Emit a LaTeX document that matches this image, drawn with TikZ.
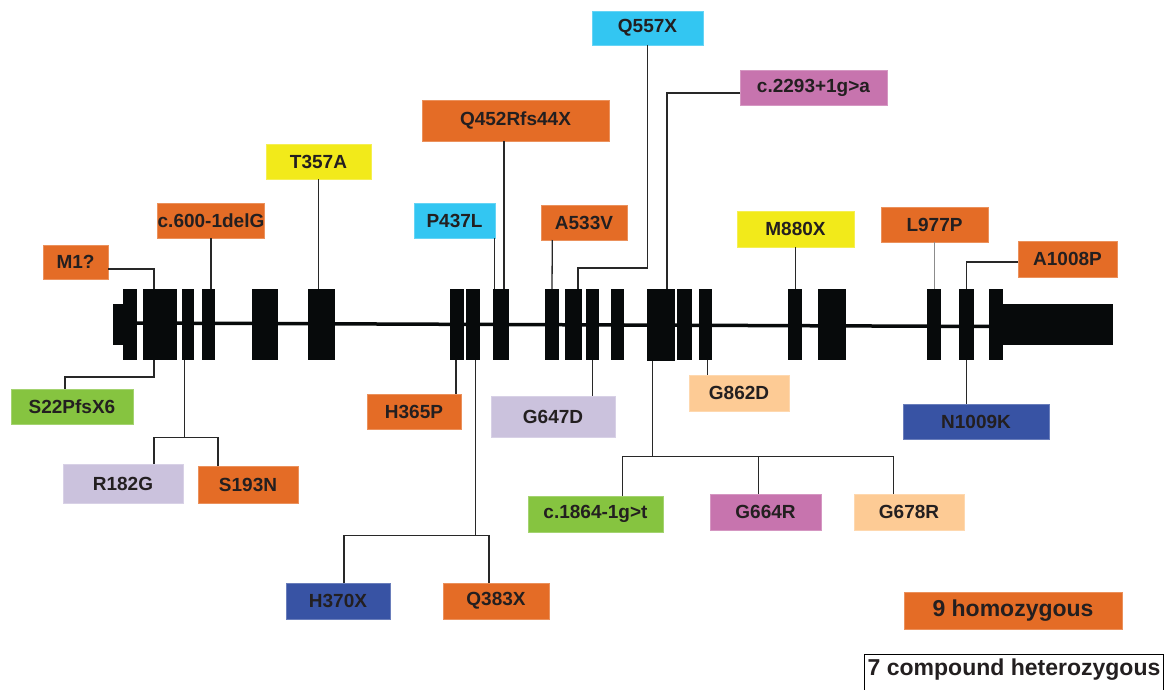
\documentclass[tikz,border=0pt]{standalone}
\usepackage{fontspec}
\setmainfont{Liberation Sans}
\definecolor{exonBlack}{RGB}{7,10,11}
\definecolor{txt}{RGB}{35,31,32}
\definecolor{linec}{RGB}{40,40,40}
\definecolor{mOrange}{RGB}{228,108,38}
\definecolor{mCyan}{RGB}{51,198,242}
\definecolor{mPink}{RGB}{199,116,174}
\definecolor{mYellow}{RGB}{242,234,26}
\definecolor{mGreen}{RGB}{134,196,64}
\definecolor{mLav}{RGB}{203,194,221}
\definecolor{mPeach}{RGB}{253,203,149}
\definecolor{mBlue}{RGB}{56,83,164}
\begin{document}
\begin{tikzpicture}[x=1pt,y=-1pt,
  exon/.style={fill=exonBlack, draw=none, inner sep=0pt, outer sep=0pt, minimum height=71pt},
  lab/.style={fill=#1, draw=#1!75!white, line width=0.6pt, inner sep=0pt, outer sep=0pt,
    text=txt, font=\fontsize{19}{22}\selectfont\bfseries},
  conn/.style={draw=linec, line width=1.3pt},
  intron/.style={draw=exonBlack, line width=3.5pt}]
\useasboundingbox (0,0) rectangle (1164,690);

% ---------- gene model: exons ----------
\node[exon, minimum width=10.3pt, minimum height=41pt] (e1s) at (117.85,324.5) {};
\node[exon, minimum width=13.7pt] (e1)  at (129.85,324.5) {};
\node[exon, minimum width=34pt]   (e2)  at (159.7,324.5) {};
\node[exon, minimum width=12.6pt] (e3)  at (188,324.5) {};
\node[exon, minimum width=13pt]   (e4)  at (208.5,324.5) {};
\node[exon, minimum width=26.6pt] (e5)  at (265,324.5) {};
\node[exon, minimum width=27pt]   (e6)  at (321.5,324.5) {};
\node[exon, minimum width=14.3pt] (e7)  at (457.15,324.5) {};
\node[exon, minimum width=14pt]   (e8)  at (473,324.5) {};
\node[exon, minimum width=16pt]   (e9)  at (500.7,324.5) {};
\node[exon, minimum width=14pt]   (e10) at (552,324.5) {};
\node[exon, minimum width=16.4pt] (e11) at (573.5,324.5) {};
\node[exon, minimum width=13.3pt] (e12) at (592.65,324.5) {};
\node[exon, minimum width=13.3pt] (e13) at (617.65,324.5) {};
\node[exon, minimum width=28pt, minimum height=72pt] (e14) at (661,325) {};
\node[exon, minimum width=15pt]   (e15) at (684.2,324.5) {};
\node[exon, minimum width=13.6pt] (e16) at (705.5,324.5) {};
\node[exon, minimum width=14pt]   (e17) at (795.3,324.5) {};
\node[exon, minimum width=28pt]   (e18) at (832,324.5) {};
\node[exon, minimum width=13.7pt] (e19) at (934.15,324.5) {};
\node[exon, minimum width=14.7pt] (e20) at (966.65,324.5) {};
\node[exon, minimum width=13.4pt] (e21) at (996,324.5) {};
\node[exon, minimum width=110.3pt, minimum height=40.7pt] (utr) at (1057.85,324.65) {};

% intron backbone
\draw[intron] ([yshift=1.5pt]e1.center) -- ([yshift=-2pt]e21.center);

% ---------- mutation labels above ----------
\node[lab=mCyan,   minimum width=111pt, minimum height=34pt] (q557)  at (647.5,28)   {Q557X};
\node[lab=mPink,   minimum width=147pt, minimum height=35pt] (c2293) at (813.5,87.5)  {c.2293+1g>a};
\node[lab=mOrange, minimum width=187pt, minimum height=41pt] (q452)  at (515.5,120.5) {Q452Rfs44X};
\node[lab=mYellow, minimum width=105pt, minimum height=35pt] (t357)  at (318.5,161.5) {T357A};
\node[lab=mCyan,   minimum width=81pt,  minimum height=35pt] (p437)  at (454.5,220.5) {P437L};
\node[lab=mOrange, minimum width=86pt,  minimum height=35pt] (a533)  at (584,222.5)   {A533V};
\node[lab=mOrange, minimum width=106pt, minimum height=35pt] (c600)  at (211,220.5)   {c.600-1delG};
\node[lab=mOrange, minimum width=65pt,  minimum height=34pt] (m1)    at (75.5,262)    {M1?};
\node[lab=mYellow, minimum width=117pt, minimum height=36pt] (m880)  at (795.5,229)   {M880X};
\node[lab=mOrange, minimum width=107pt, minimum height=35pt] (l977)  at (934.5,224.5) {L977P};
\node[lab=mOrange, minimum width=99pt,  minimum height=36pt] (a1008) at (1067.5,259)  {A1008P};

% ---------- mutation labels below ----------
\node[lab=mBlue,   minimum width=146pt, minimum height=35pt] (n1009) at (976,421.5)   {N1009K};
\node[lab=mGreen,  minimum width=122pt, minimum height=35pt] (s22)   at (72,406.5)    {S22PfsX6};
\node[lab=mLav,    minimum width=120pt, minimum height=39pt] (r182)  at (123,483.5)   {R182G};
\node[lab=mOrange, minimum width=100pt, minimum height=37pt] (s193)  at (248,484.5)   {S193N};
\node[lab=mOrange, minimum width=94pt,  minimum height=35pt] (h365)  at (414,411.5)   {H365P};
\node[lab=mLav,    minimum width=124pt, minimum height=41pt] (g647)  at (553,416.5)   {G647D};
\node[lab=mBlue,   minimum width=104pt, minimum height=36pt] (h370)  at (338,601)     {H370X};
\node[lab=mOrange, minimum width=106pt, minimum height=36pt] (q383)  at (496,601)     {Q383X};
\node[lab=mPeach,  minimum width=100pt, minimum height=36pt] (g862)  at (739,393)     {G862D};
\node[lab=mGreen,  minimum width=135pt, minimum height=36pt] (c1864) at (595.5,514)   {c.1864-1g>t};
\node[lab=mPink,   minimum width=111pt, minimum height=36pt] (g664)  at (765.5,512)   {G664R};
\node[lab=mPeach,  minimum width=110pt, minimum height=36pt] (g678)  at (909,512)     {G678R};

% ---------- legend ----------
\node[lab=mOrange, font=\fontsize{23}{26}\selectfont\bfseries,
      minimum width=218pt, minimum height=37pt] (homo) at (1013,610.5) {9 homozygous};
\node[draw=black, line width=1.4pt, anchor=north west, inner xsep=3pt, inner ysep=4pt,
      text depth=30pt, text=txt, font=\fontsize{23}{26}\selectfont\bfseries]
      (het) at (864,654) {7 compound heterozygous};

% ---------- connectors above the gene ----------
\draw[conn] ([yshift=-7pt]m1.east) -| ([xshift=-5.7pt]e2.north);
\draw[conn] (c600.south) -- (c600.south |- e4.north);
\draw[conn] (t357.south) -- (t357.south |- e6.north);
\draw[conn] ([xshift=-11.5pt]q452.south) -- ([xshift=3.3pt]e9.north);
\draw[conn] ([xshift=39.8pt]p437.south) -- ([xshift=-6.4pt]e9.north);
\draw[conn] ([xshift=-31.7pt]a533.south) -- (e10.north);
\draw[conn] (q557.south) |- ([xshift=4.5pt,yshift=21pt]e11.north) -- ([xshift=4.5pt]e11.north);
\draw[conn] ([yshift=-5.5pt]c2293.west) -| ([xshift=6pt]e14.north);
\draw[conn] (m880.south) -- (m880.south |- e17.north);
\draw[conn, draw=black!45] (l977.south) -- (l977.south |- e19.north);
\draw[conn] ([yshift=-3pt]a1008.west) -| (e20.north);

% ---------- connectors below the gene ----------
\draw[conn] (e20.south) -- (e20.south |- n1009.north);
\draw[conn] ([xshift=-5.7pt]e2.south) -- ++(0,17) -| ([xshift=-7pt]s22.north);
\draw[conn] ([xshift=-3.7pt]e3.south) -- ++(0,77.7) coordinate (j1);
\draw[conn] ([xshift=31pt]r182.north) |- (j1);
\draw[conn] ([xshift=-30pt]s193.north) |- (j1);
\draw[conn] ([xshift=-1.3pt]e7.south) -- ([xshift=-1.3pt]e7.south |- h365.north);
\draw[conn] ([xshift=2.3pt]e8.south) -- ++(0,175.7) coordinate (j2);
\draw[conn] ([xshift=6pt]h370.north) |- (j2);
\draw[conn] ([xshift=-7pt]q383.north) |- (j2);
\draw[conn] (e12.south) -- (e12.south |- g647.north);
\draw[conn] ([xshift=-8.3pt]e14.south) -- ++(0,95.7) coordinate (j3);
\draw[conn] ([xshift=26.8pt]c1864.north) |- (j3);
\draw[conn] ([xshift=-7.2pt]g664.north) |- (j3);
\draw[conn] ([xshift=-15.3pt]g678.north) |- (j3);
\draw[conn] ([xshift=2.2pt]e16.south) -- ([xshift=2.2pt]e16.south |- g862.north);
\end{tikzpicture}
\end{document}
